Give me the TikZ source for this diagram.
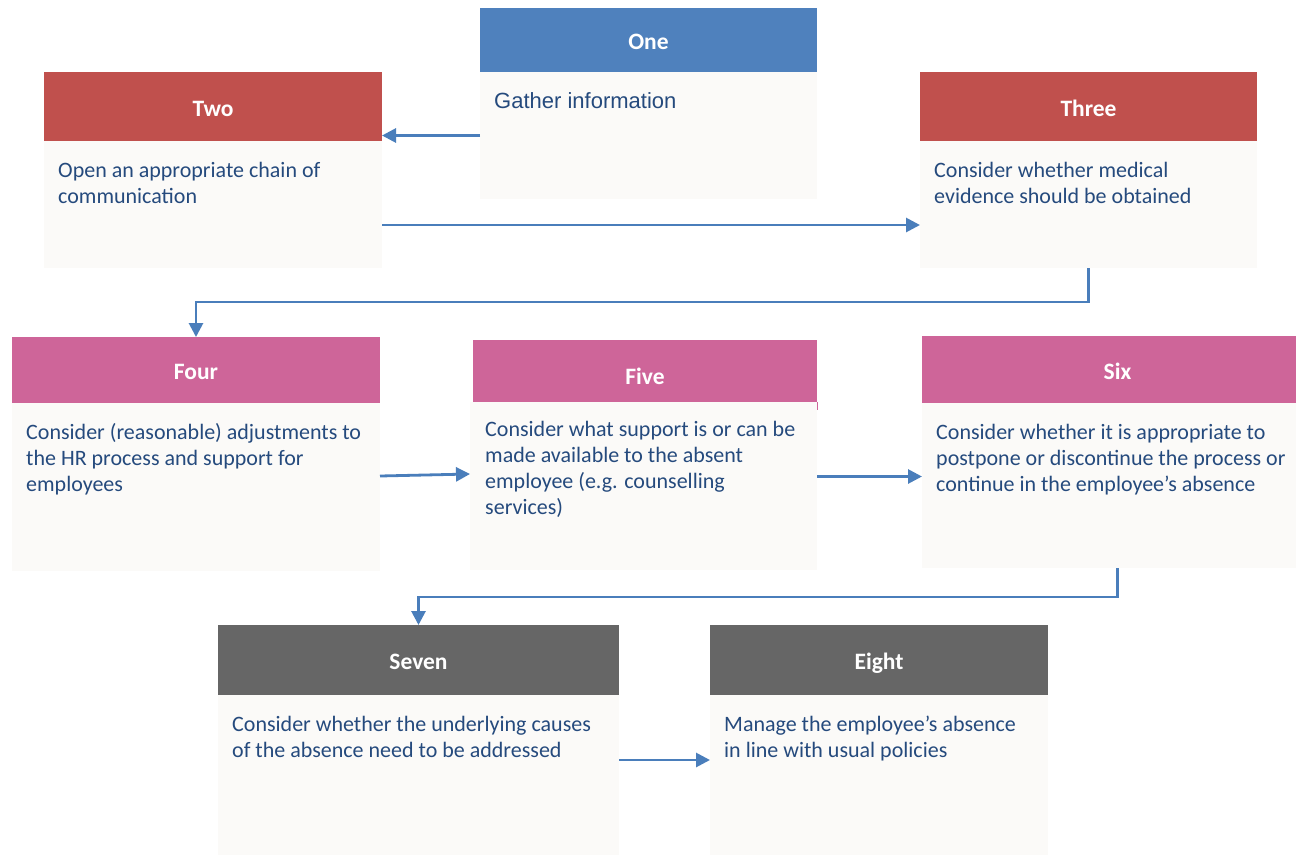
\documentclass[tikz,border=0pt]{standalone}
\usepackage{fontspec}
\setmainfont{Carlito}
\newfontfamily\arialfont{Liberation Sans}
\usetikzlibrary{arrows.meta,calc}
\definecolor{hblue}{HTML}{4F81BD}
\definecolor{hred}{HTML}{C0504D}
\definecolor{hpink}{HTML}{CE6599}
\definecolor{hgray}{HTML}{666666}
\definecolor{bodyfill}{HTML}{FBFAF8}
\definecolor{txtblue}{HTML}{254A7D}
\definecolor{arrblue}{HTML}{4A7EBB}
\tikzset{
  hdr/.style={inner sep=0pt, outer sep=0pt, anchor=north west},
  bdy/.style={inner sep=0pt, outer sep=0pt, anchor=north west, fill=bodyfill},
  ttl/.style={text=white, font=\fontsize{23.5}{26}\selectfont\bfseries, inner sep=0pt, anchor=base},
  btxt/.style={text=txtblue, font=\fontsize{22}{26}\selectfont, inner sep=0pt, anchor=north west, align=left},
  arr/.style={draw=arrblue, line width=2.8pt, -{Triangle[length=14pt,width=14pt]}},
}
% #1 name, #2 x1, #3 top, #4 x2, #5 header bottom, #6 bottom, #7 colour, #8 title, #9 body text
\newcommand\flowbox[9]{%
  \node[bdy, minimum width={#4pt-#2pt}, minimum height={#6pt-#5pt}] (#1b) at (#2,#5) {};
  \node[hdr, fill=#7, minimum width={#4pt-#2pt}, minimum height={#5pt-#3pt}] (#1h) at (#2,#3) {};
  \node[ttl] (#1t) at ($(#1h.center)+(0,9.5)$) {#8};
  \node[btxt] (#1x) at (#2+14,#5+18) {\rule{0pt}{18pt}#9};
}
\begin{document}
\begin{tikzpicture}[x=1pt,y=-1pt]
\useasboundingbox[fill=white] (0,0) rectangle (1296,855);

\flowbox{one}{480}{8}{817}{72}{199}{hblue}{One}{\arialfont Gather information}
\flowbox{two}{44}{72}{382}{141}{268}{hred}{Two}{Open an appropriate chain of\\communication}
\flowbox{three}{920}{72}{1257}{141}{268}{hred}{Three}{Consider whether medical\\evidence should be obtained}
\flowbox{four}{12}{337}{380}{403}{571}{hpink}{Four}{Consider (reasonable) adjustments to\\the HR process and support for\\employees}
% Five: body slightly wider on the left than the header
\node[bdy, minimum width=347pt, minimum height=168pt] (fiveb) at (470,402) {};
\node[hdr, fill=hpink, minimum width=344pt, minimum height=62pt] (fiveh) at (473,340) {};
\node[hdr, fill=hpink, minimum width=1.5pt, minimum height=8pt] (fives) at (816.5,402) {};
\node[ttl] (fivet) at ($(fiveh.center)+(0,13)$) {Five};
\node[btxt] (fivex) at (485,418) {\rule{0pt}{18pt}Consider what support is or can be\\made available to the absent\\employee (e.g. counselling\\services)};
% Six runs past the right edge of the picture
\flowbox{six}{922}{336}{1313}{403}{568}{hpink}{Six}{Consider whether it is appropriate to\\postpone or discontinue the process or\\continue in the employee’s absence}
\flowbox{seven}{218}{625}{619}{695}{855}{hgray}{Seven}{Consider whether the underlying causes\\of the absence need to be addressed}
\flowbox{eight}{710}{625}{1048}{695}{855}{hgray}{Eight}{Manage the employee’s absence\\in line with usual policies}

% connectors
\coordinate (y23) at (0,225);
\coordinate (y34) at (0,302);
\coordinate (y45a) at (0,476);
\coordinate (y45b) at (0,474);
\coordinate (y56) at (0,476.5);
\coordinate (y67) at (0,597);
\coordinate (y78) at (0,760);

\draw[arr] (oneb.west) -- (oneb.west -| twoh.east);
\draw[arr] (twob.east |- y23) -- (threeb.west |- y23);
\draw[arr] (threeb.south) -- (threeb.south |- y34) -| (fourh.north);
\draw[arr] (fourb.east |- y45a) -- (fiveb.west |- y45b);
\draw[arr] (fiveb.east |- y56) -- (sixb.west |- y56);
\draw[arr] (sixb.south) -- (sixb.south |- y67) -| (sevenh.north);
\draw[arr] (sevenb.east |- y78) -- (eightb.west |- y78);
\end{tikzpicture}
\end{document}
